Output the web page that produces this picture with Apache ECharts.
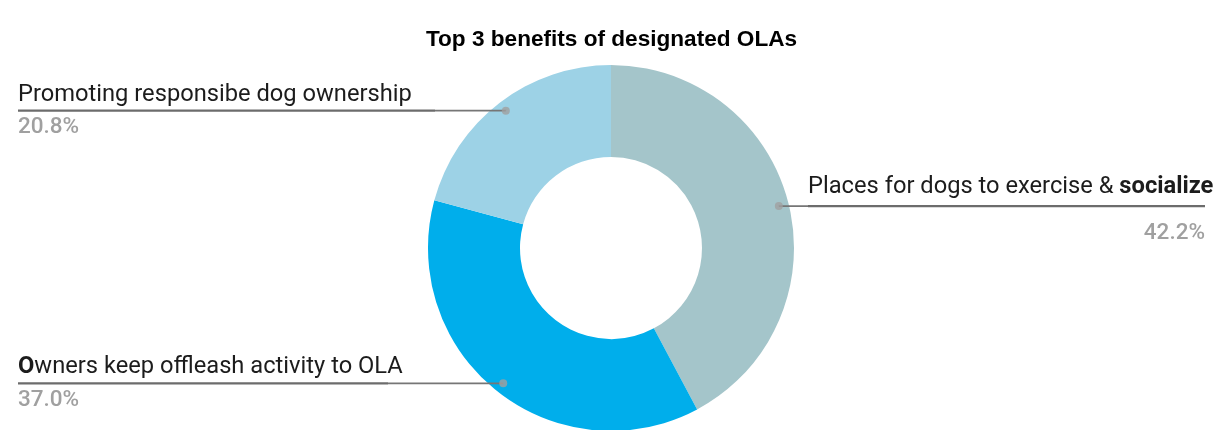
<!DOCTYPE html>
<html>
<head>
<meta charset="utf-8">
<style>
  html, body { margin: 0; padding: 0; background: #ffffff; }
  #chart { width: 1223px; height: 430px; }
</style>
<script src="https://cdn.jsdelivr.net/npm/echarts@6/dist/echarts.min.js"></script>
</head>
<body>
<div id="chart"></div>
<script>
// Survey answers: top 3 benefits of designated off-leash areas (OLAs)
const categories = [
  'Places for dogs to exercise & socialize',
  'Owners keep offleash activity to OLA',
  'Promoting responsibe dog ownership'
];
const shares = [42.2, 37.0, 20.8];          // percent of respondents
const emphasis = ['socialize', 'O', ''];     // part of each name set in bold
const colors = ['#A4C5CA', '#00AEEB', '#9DD2E6'];

// label box widths (underline length) per slice
const labelWidths = [397, 370, 417];

const W = 1223;
const CENTER = [611, 248];
const R_OUT = 183, R_IN = 91, R_DOT = 173;
const EDGE = 18;
const total = shares.reduce((a, b) => a + b, 0);

// position (0..total around the ring) at the middle of each slice
const midPoints = [];
let acc = 0;
shares.forEach(v => { midPoints.push(acc + v / 2); acc += v; });

const isRight = i => midPoints[i] / total < 0.5;

function labelText(i) {
  const name = categories[i];
  const em = emphasis[i];
  let head;
  if (em && name.indexOf(em) >= 0) {
    const k = name.indexOf(em);
    const before = name.slice(0, k);
    const after = name.slice(k + em.length);
    head = (before ? '{n|' + before + '}' : '') + '{nb|' + em + '}' + (after ? '{n|' + after + '}' : '');
  } else {
    head = '{n|' + name + '}';
  }
  return head + '\n{hr|}\n{v|' + shares[i].toFixed(1) + '%}';
}

function richFor(i) {
  const right = isRight(i);
  const nameLH = right ? 37 : 32;
  const valLH = right ? 54 : 34;
  const nameStyle = { fontFamily: 'Roboto', fontSize: 23.7, color: '#1c1c1c', lineHeight: nameLH, align: 'left' };
  return {
    padTop: valLH - nameLH,
    rich: {
      n: nameStyle,
      nb: Object.assign({}, nameStyle, { fontWeight: 'bold' }),
      hr: { width: '100%', height: 0, lineHeight: 0, borderColor: '#6c6c6c', borderWidth: 2.2 },
      v: { fontFamily: 'Roboto', fontSize: 22.5, fontWeight: 500, color: '#a0a0a0', lineHeight: valLH,
           align: right ? 'right' : 'left' }
    }
  };
}

// horizontal leader length from the anchor dot to the label box
function leaderLength(i) {
  const ang = midPoints[i] / total * 2 * Math.PI;
  const dotX = CENTER[0] + R_DOT * Math.sin(ang);
  const boxEdge = isRight(i) ? W - EDGE - labelWidths[i] : EDGE + labelWidths[i];
  return Math.abs(dotX - boxEdge);
}

const ringData = categories.map((name, i) => ({
  name, value: shares[i], itemStyle: { color: colors[i] }
}));

const labelData = categories.map((name, i) => {
  const r = richFor(i);
  return {
    name, value: shares[i],
    label: {
      width: labelWidths[i],
      padding: [r.padTop, 0, 0, 0],
      rich: r.rich,
      formatter: () => labelText(i)
    },
    labelLine: { length2: leaderLength(i) }
  };
});

const chart = echarts.init(document.getElementById('chart'), null, { renderer: 'canvas' });
chart.setOption({
  animation: false,
  backgroundColor: '#ffffff',
  title: {
    text: 'Top 3 benefits of designated OLAs',
    left: 'center',
    top: 23,
    textStyle: { fontFamily: 'Liberation Sans', fontSize: 22.6, fontWeight: 'bold', color: '#000000' }
  },
  polar: { center: CENTER, radius: R_DOT },
  angleAxis: { type: 'value', min: 0, max: total, startAngle: 90, clockwise: true, show: false },
  radiusAxis: { type: 'value', min: 0, max: 1, show: false },
  series: [
    {
      // the donut ring
      type: 'pie',
      center: CENTER,
      radius: [R_IN, R_OUT],
      startAngle: 90,
      clockwise: true,
      silent: true,
      label: { show: false },
      labelLine: { show: false },
      data: ringData
    },
    {
      // invisible inner pie that carries the leader lines and labels
      type: 'pie',
      center: CENTER,
      radius: [0, R_DOT],
      startAngle: 90,
      clockwise: true,
      silent: true,
      z: 3,
      avoidLabelOverlap: false,
      itemStyle: { color: 'rgba(0,0,0,0)' },
      label: {
        show: true,
        alignTo: 'edge',
        edgeDistance: EDGE,
        distanceToLabelLine: 0,
        overflow: 'none'
      },
      labelLine: {
        show: true,
        length: 0.01,
        lineStyle: { color: '#767676', width: 1.8 }
      },
      data: labelData
    },
    {
      // anchor dots where the leader lines start
      type: 'scatter',
      coordinateSystem: 'polar',
      symbol: 'circle',
      symbolSize: 8,
      silent: true,
      z: 4,
      itemStyle: { color: '#a0a0a0' },
      data: midPoints.map(a => [1, a])
    }
  ]
});
</script>
</body>
</html>
